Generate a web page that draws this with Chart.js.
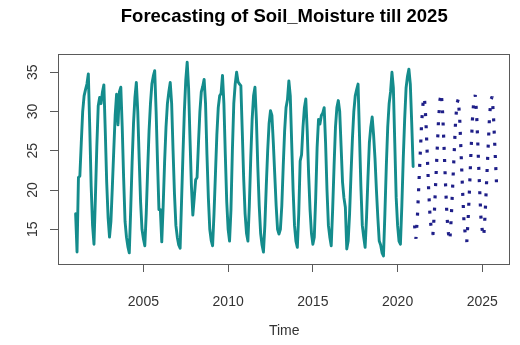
<!DOCTYPE html>
<html>
<head>
<meta charset="utf-8">
<title>Forecasting of Soil_Moisture till 2025</title>
<script src="https://cdn.jsdelivr.net/npm/chart.js@4/dist/chart.umd.min.js"></script>
<style>
  html, body { margin: 0; padding: 0; background: #ffffff; }
  canvas { display: block; }
</style>
</head>
<body>
<canvas id="chart" width="520" height="345"></canvas>
<script>
// Monthly soil moisture, Jan 2001 - Dec 2020 (one row per year, Jan..Dec)
const obsStart = 2001;
const soilMoisture = [
  17.0, 12.1, 21.6, 21.8, 26.0, 30.0, 32.0, 32.8, 33.5, 34.8, 28.0, 20.5,
  15.5, 13.1, 19.0, 25.5, 30.7, 31.8, 31.0, 32.5, 33.4, 27.5, 21.0, 16.5,
  14.0, 16.0, 20.4, 25.0, 29.5, 32.2, 28.3, 32.5, 33.1, 28.0, 21.5, 16.0,
  14.0, 12.8, 12.0, 17.5, 23.5, 28.5, 31.8, 33.7, 30.0, 24.0, 18.5, 15.0,
  13.8, 12.9, 17.0, 22.5, 27.5, 31.0, 33.5, 34.5, 35.2, 30.0, 23.5, 17.5,
  17.5, 13.4, 18.0, 23.5, 28.0, 31.0, 32.5, 33.7, 31.0, 25.0, 19.5, 15.5,
  14.0, 13.0, 12.6, 18.5, 24.5, 30.0, 34.0, 36.3, 33.0, 26.5, 20.5, 16.8,
  19.0, 21.3, 21.6, 26.0, 30.0, 32.5, 33.2, 34.1, 31.0, 24.5, 19.0, 15.0,
  13.6, 12.9, 17.0, 22.0, 27.0, 30.5, 32.0, 32.3, 34.6, 31.0, 24.5, 18.5,
  15.0, 13.5, 17.5, 25.0, 31.0, 33.5, 35.0, 33.8, 33.5, 33.3, 27.5, 21.5,
  17.0, 14.5, 13.5, 18.0, 24.0, 29.0, 32.0, 33.1, 29.0, 23.0, 18.0, 14.5,
  13.0, 12.1, 15.5, 20.5, 25.0, 28.5, 30.1, 29.5, 26.0, 22.0, 18.0, 15.0,
  14.4, 15.0, 18.0, 23.0, 27.5, 30.5, 31.5, 33.9, 32.0, 26.0, 20.0, 15.5,
  13.5, 12.7, 17.0, 23.7, 24.5, 28.0, 30.5, 31.6, 27.5, 22.0, 17.5, 14.5,
  13.1, 14.0, 19.0, 25.4, 29.0, 28.4, 29.5, 29.8, 30.5, 26.0, 20.0, 15.5,
  14.0, 12.9, 17.5, 23.0, 28.0, 30.5, 31.4, 30.0, 25.5, 21.0, 19.0, 17.8,
  12.5, 13.5, 17.0, 22.0, 26.5, 30.0, 32.0, 32.8, 33.5, 27.0, 20.5, 15.5,
  14.0, 12.7, 16.5, 21.5, 26.0, 28.0, 29.3, 27.0, 24.0, 20.0, 16.5, 13.5,
  13.0, 12.0, 11.6, 17.0, 23.0, 28.0, 31.0, 32.5, 35.0, 33.0, 26.0, 19.0,
  15.5, 13.5, 13.1, 18.0, 24.0, 29.0, 33.0, 34.5, 35.4, 33.5, 28.5, 23.0
];

// Point forecast, Jan 2021 - Nov 2025
const fcStart = 2021;
const forecast = [
  15.5, 13.8, 16.5, 20.5, 24.5, 28.5, 31.0, 31.8, 29.0, 24.5, 20.0, 16.5,
  14.8, 14.3, 17.0, 21.0, 25.0, 29.0, 31.5, 32.3, 29.5, 25.0, 20.5, 16.5,
  14.5, 13.6, 16.5, 20.5, 24.5, 28.5, 31.0, 31.6, 29.0, 24.5, 20.0, 16.0,
  14.2, 13.4, 16.5, 20.5, 25.0, 29.0, 31.5, 32.1, 29.5, 25.0, 20.5, 16.5,
  14.8, 14.1, 17.0, 21.0, 25.0, 29.0, 31.5, 31.9, 29.0, 25.0, 21.0
];

const xTicks = [2005, 2010, 2015, 2020, 2025];
const yTicks = [15, 20, 25, 30, 35];
const xLimits = [1999.96, 2026.66];
const yLimits = [10.58, 37.33];

const titleText = 'Forecasting of Soil_Moisture till 2025';
const xTitle = 'Time';

// monthly time index, as in a ts object with frequency 12
const toSeries = (start, values) => values.map((v, i) => ({ x: start + i / 12, y: v }));

const axisFont = { family: '"Liberation Sans", Arial, Helvetica, sans-serif', size: 14 };
const inkColor = '#333333';
const frameColor = '#5a5a5a';

// plot box drawn on all four sides
const frame = {
  id: 'frame',
  afterDatasetsDraw(chart) {
    const { ctx, chartArea: a } = chart;
    ctx.save();
    ctx.strokeStyle = frameColor;
    ctx.lineWidth = 1;
    ctx.strokeRect(Math.round(a.left) + 0.5, Math.round(a.top) + 0.5,
                   Math.round(a.right - a.left) - 1, Math.round(a.bottom - a.top));
    ctx.restore();
  }
};

new Chart(document.getElementById('chart'), {
  type: 'line',
  data: {
    datasets: [
      {
        label: 'Soil_Moisture',
        data: toSeries(obsStart, soilMoisture),
        borderColor: '#148c8c',
        borderWidth: 2.9,
        borderJoinStyle: 'round',
        borderCapStyle: 'round',
        pointRadius: 0,
        tension: 0,
        fill: false
      },
      {
        label: 'Forecast',
        data: toSeries(fcStart, forecast),
        borderColor: '#1e1e88',
        borderWidth: 3.2,
        borderDash: [3, 9.2],
        borderCapStyle: 'butt',
        borderJoinStyle: 'bevel',
        pointRadius: 0,
        tension: 0,
        fill: false
      }
    ]
  },
  options: {
    responsive: false,
    animation: false,
    devicePixelRatio: 1,
    layout: { padding: { left: 0, right: 7, top: 0, bottom: 0 } },
    plugins: {
      legend: { display: false },
      tooltip: { enabled: false },
      title: {
        display: true,
        fullSize: false,
        text: titleText,
        color: '#000000',
        font: { family: axisFont.family, size: 18.5, weight: 'bold' },
        padding: { top: 6, bottom: 25.8 }
      }
    },
    scales: {
      x: {
        type: 'linear',
        position: 'bottom',
        min: xLimits[0],
        max: xLimits[1],
        afterBuildTicks: s => { s.ticks = xTicks.map(v => ({ value: v })); },
        afterFit: s => { s.height = 81; },
        ticks: {
          autoSkip: false,
          maxRotation: 0,
          color: inkColor,
          font: axisFont,
          padding: 21.5,
          callback: v => String(v)
        },
        grid: { drawOnChartArea: false, drawTicks: true, tickLength: 8, color: frameColor, tickColor: frameColor },
        border: { display: false },
        title: {
          display: true,
          text: xTitle,
          color: inkColor,
          font: axisFont,
          padding: { top: 0, bottom: 5 }
        }
      },
      y: {
        type: 'linear',
        position: 'left',
        min: yLimits[0],
        max: yLimits[1],
        afterBuildTicks: s => { s.ticks = yTicks.map(v => ({ value: v })); },
        afterFit: s => { s.width = 58; },
        ticks: {
          autoSkip: false,
          minRotation: 90,
          maxRotation: 90,
          crossAlign: 'center',
          color: inkColor,
          font: axisFont,
          padding: 9,
          callback: v => String(v)
        },
        grid: { drawOnChartArea: false, drawTicks: true, tickLength: 8, color: frameColor, tickColor: frameColor },
        border: { display: false }
      }
    }
  },
  plugins: [frame]
});
</script>
</body>
</html>
